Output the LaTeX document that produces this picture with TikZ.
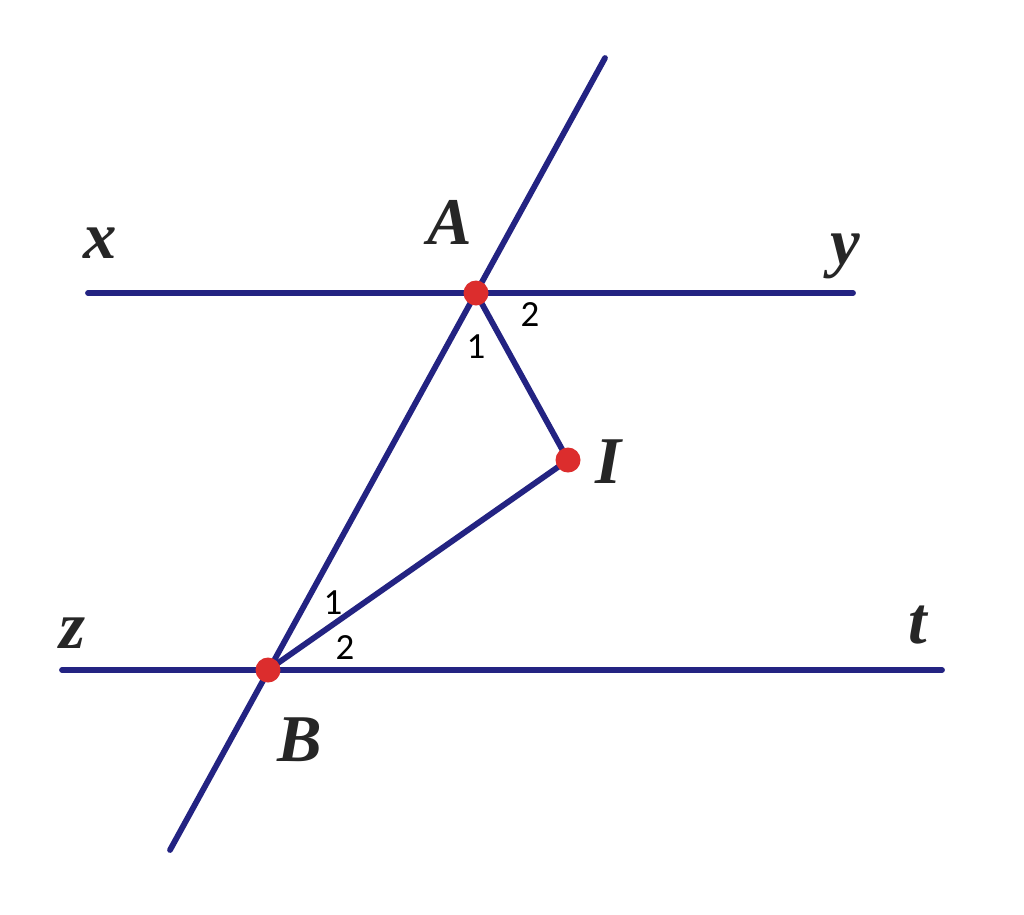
\documentclass[tikz,border=0pt]{standalone}
\usepackage{fontspec}
\setmainfont{Liberation Serif}
\newfontfamily\numfont{Carlito}
\definecolor{navy}{RGB}{35,35,130}
\definecolor{dotred}{RGB}{220,45,45}
\begin{document}
\begin{tikzpicture}[x=0.02cm,y=-0.02cm,
  seg/.style={draw=navy,line width=3.3pt,line cap=round},
  pt/.style={circle,fill=dotred,inner sep=0pt,minimum size=0.5cm},
  lbl/.style={font=\fontsize{38}{40}\selectfont\bfseries\itshape,text=black!85},
  num/.style={font=\numfont\fontsize{21}{23}\selectfont,text=black}]
\useasboundingbox (0,0) rectangle (1024,914);
\fill[white] (0,0) rectangle (1024,914);
\coordinate (A) at (476,293);
\coordinate (B) at (268,670);
\coordinate (I) at (568,460);
\coordinate (X) at (88,293);
\coordinate (Y) at (853,293);
\coordinate (Z) at (62,670);
\coordinate (T) at (942,670);
\coordinate (Top) at (605,58);
\coordinate (Bot) at (170,850);
\draw[seg] (X) -- (Y);
\draw[seg] (Z) -- (T);
\draw[seg] (Top) -- (Bot);
\draw[seg] (A) -- (I);
\draw[seg] (B) -- (I);
\node[pt] (dA) at (A) {};
\node[pt] (dB) at (B) {};
\node[pt] (dI) at (I) {};
\node[lbl] (lx) at (100,243) {x};
\node[lbl] (lA) at (450,222) {A};
\node[lbl] (ly) at (845,256) {y};
\node[lbl] (lI) at (608,462) {I};
\node[lbl] (lz) at (72,633) {z};
\node[lbl] (lt) at (918,625) {t};
\node[lbl] (lB) at (300,740) {B};
\node[num] (a1) at (476,347) {1};
\node[num] (a2) at (530,315) {2};
\node[num] (b1) at (333,603) {1};
\node[num] (b2) at (345,648) {2};
\end{tikzpicture}
\end{document}
